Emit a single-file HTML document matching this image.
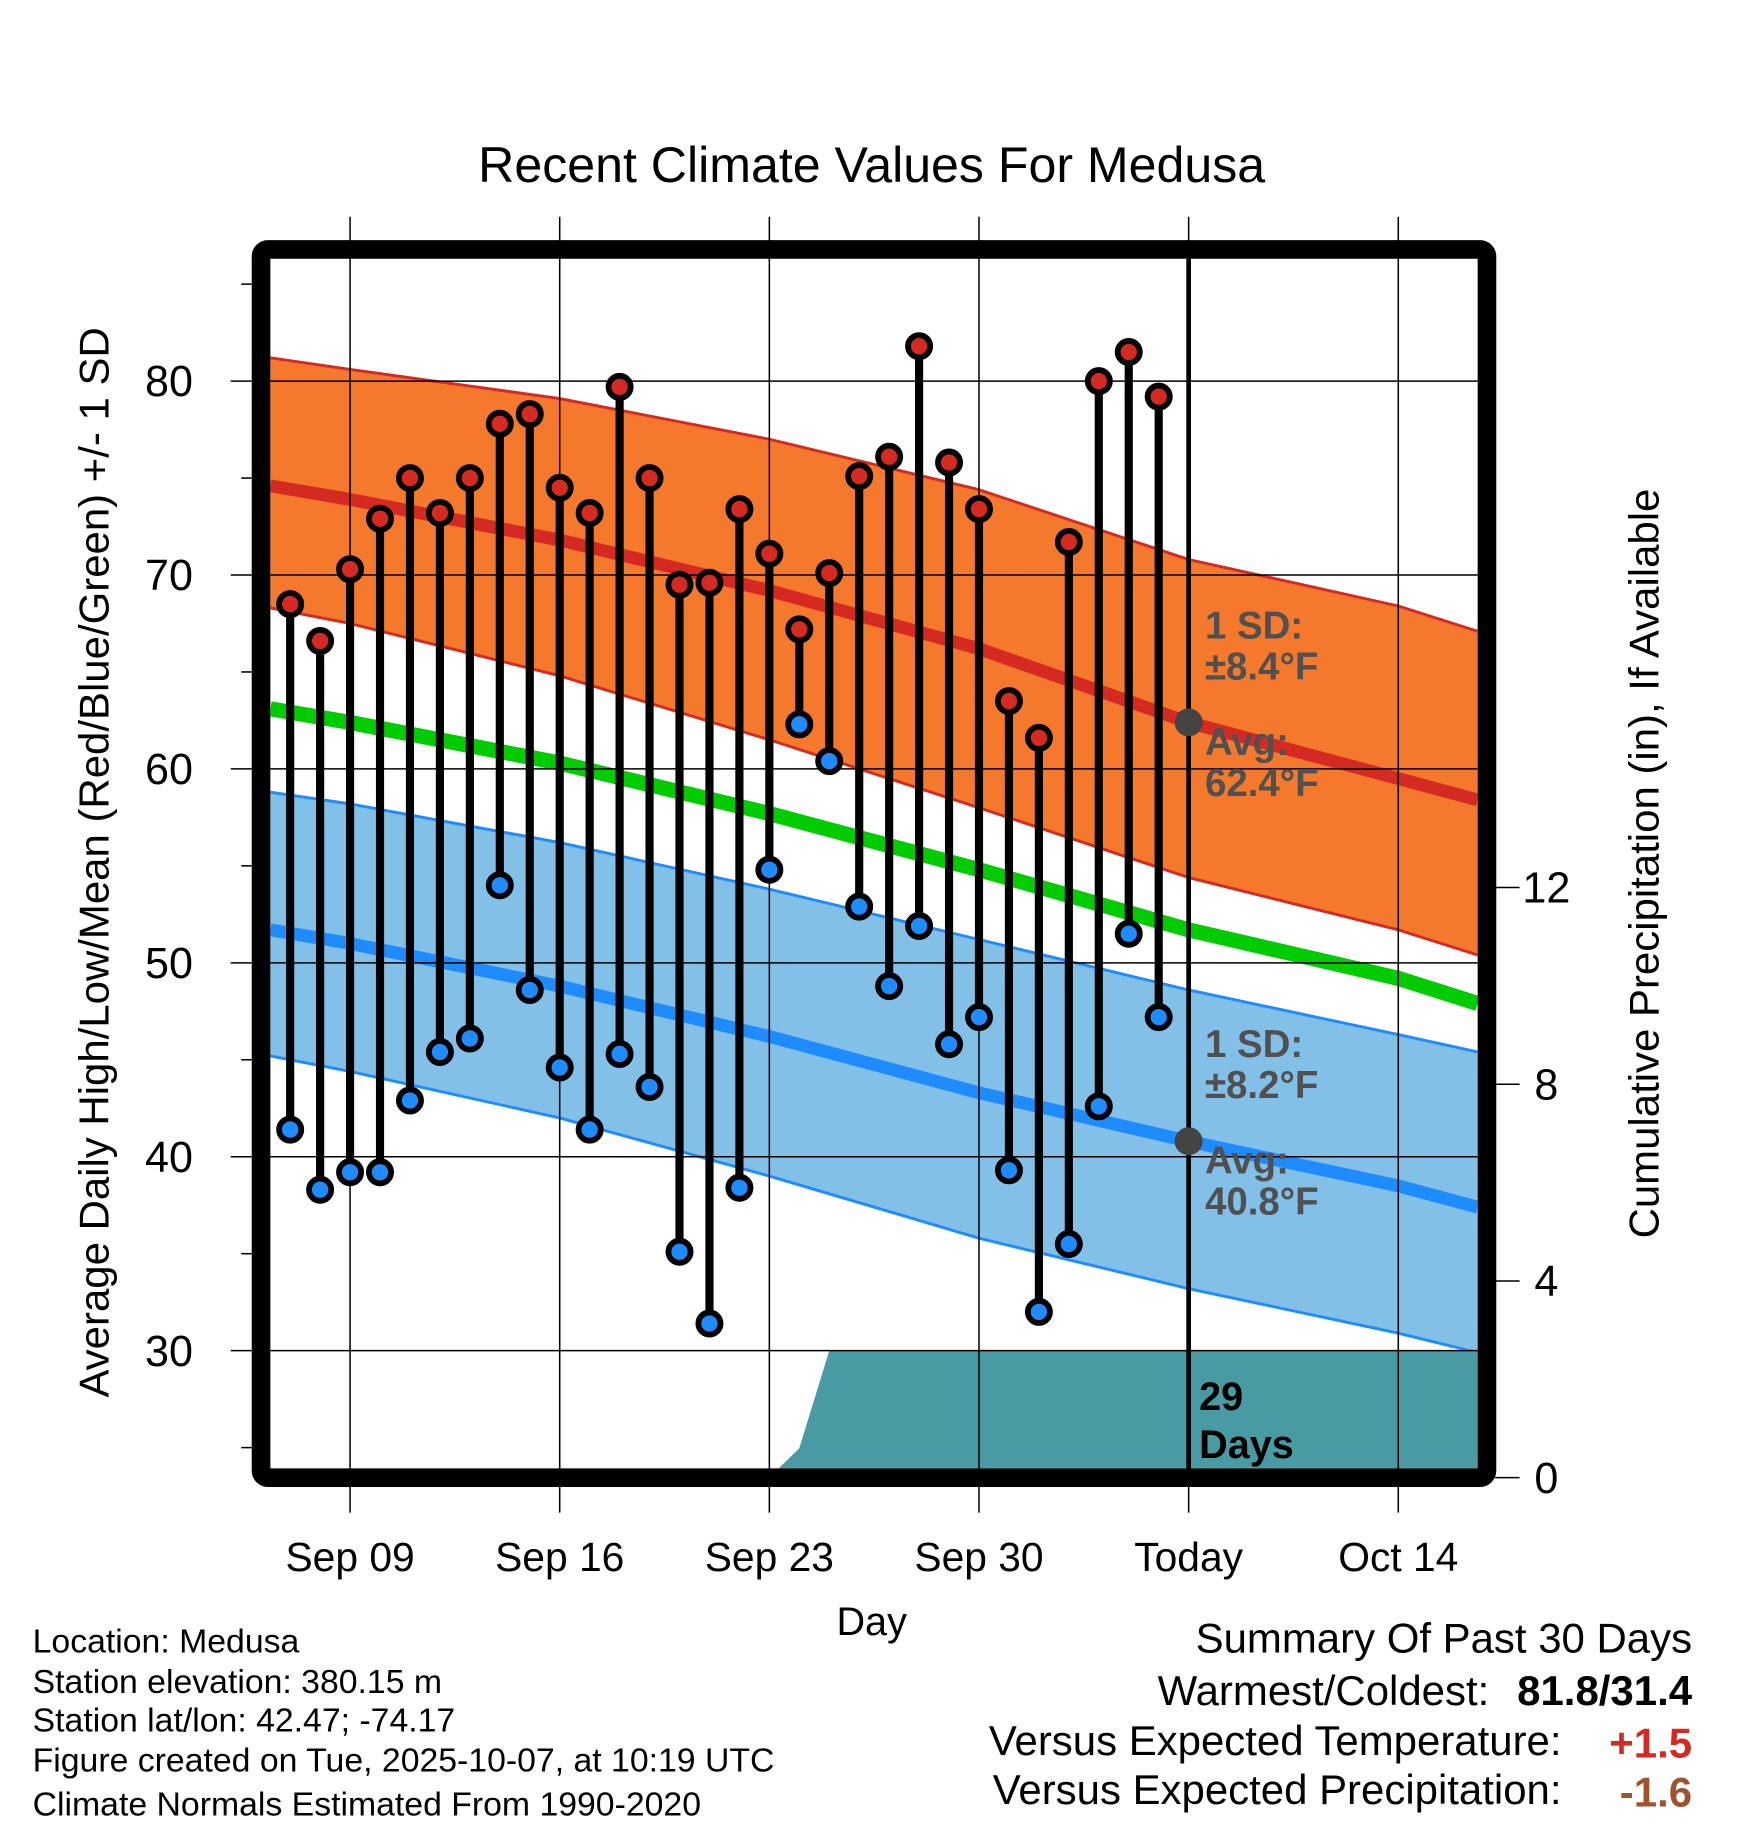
<!DOCTYPE html>
<html><head><meta charset="utf-8"><style>
html,body{margin:0;padding:0;background:#fff}
svg{display:block;font-family:"Liberation Sans",sans-serif}
</style></head><body>
<svg id="chart" width="1748" height="1828" viewBox="0 0 1500 1568.6" xmlns="http://www.w3.org/2000/svg">
<defs><clipPath id="plotclip"><rect x="232" y="222" width="1036" height="1038"/></clipPath></defs>
<g id="layers"></g>
</svg>
<script>
// ---- data ----
const normDays = [-0.66, 2, 9, 16, 23, 30, 37, 39.65]; // days since Sep 7
const normHighUpper = [81.2, 80.6, 79.1, 77.0, 74.4, 70.8, 68.4, 67.1];
const normHighMean  = [74.6, 73.9, 71.8, 69.2, 66.2, 62.4, 59.5, 58.4];
const normHighLower = [68.3, 67.5, 64.8, 61.5, 58.0, 54.4, 51.7, 50.4];
const normMean      = [63.1, 62.4, 60.3, 57.7, 54.8, 51.7, 49.2, 47.9];
const normLowUpper  = [58.8, 58.2, 56.2, 53.8, 51.2, 48.6, 46.3, 45.4];
const normLowMean   = [51.7, 51.0, 48.8, 46.2, 43.3, 40.8, 38.5, 37.4];
const normLowLower  = [45.2, 44.4, 42.0, 39.0, 35.8, 33.2, 30.9, 29.9];
const highs = [68.5,66.6,70.3,72.9,75.0,73.2,75.0,77.8,78.3,74.5,73.2,79.7,75.0,69.5,69.6,73.4,71.1,67.2,70.1,75.1,76.1,81.8,75.8,73.4,63.5,61.6,71.7,80.0,81.5,79.2];
const lows  = [41.4,38.3,39.2,39.2,42.9,45.4,46.1,54.0,48.6,44.6,41.4,45.3,43.6,35.1,31.4,38.4,54.8,62.3,60.4,52.9,48.8,51.9,45.8,47.2,39.3,32.0,35.5,42.6,51.5,47.2];
const precipDays = [-0.66, 16, 17, 18, 39.65];
const precipCum  = [0, 0, 0.6, 2.58, 2.58];
const leftTicks = [30,40,50,60,70,80];
const rightTicks = [0,4,8,12];
const xTickDays = [2,9,16,23,30,37];
const xTickLabels = ["Sep 09","Sep 16","Sep 23","Sep 30","Today","Oct 14"];

// ---- axes ----
const X0=232,X1=1268,Y0=222,Y1=1260;
const x = d => 249 + d*25.7;
const y = t => 327 + (80-t)*16.64;
const yp = p => 1268 - p*42.2;
const NS="http://www.w3.org/2000/svg";
const root=document.getElementById('layers');
function mk(tag,attrs,parent){const e=document.createElementNS(NS,tag);for(const k in attrs)e.setAttribute(k,attrs[k]);(parent||root).appendChild(e);return e;}
function txt(s,attrs,parent){const e=mk('text',attrs,parent);e.textContent=s;return e;}
function poly(days,vals,fn){return days.map((d,i)=>x(d).toFixed(1)+','+fn(vals[i]).toFixed(1));}

const plot=mk('g',{'clip-path':'url(#plotclip)'});



let e;
e=mk('polygon',{points:poly(normDays,normHighUpper,y).concat(poly(normDays,normHighLower,y).reverse()).join(' '),fill:'#f5792c'},plot);


e=mk('polygon',{points:poly(normDays,normLowUpper,y).concat(poly(normDays,normLowLower,y).reverse()).join(' '),fill:'#82c0e8'},plot);


[[normHighUpper,'#d42a22',2.5],[normHighLower,'#d42a22',2.5],[normLowUpper,'#1e8cff',2.5],[normLowLower,'#1e8cff',2.5],[normHighMean,'#d42a22',11],[normMean,'#00cc00',13],[normLowMean,'#1e8cff',11]].forEach((s,i)=>{
  const l=mk('polyline',{points:poly(normDays,s[0],y).join(' '),fill:'none',stroke:s[1],'stroke-width':s[2],'stroke-linejoin':'round'},plot);
  
  
});
const pts=poly(precipDays,precipCum,yp);
e=mk('polygon',{points:[x(precipDays[0])+','+yp(0)].concat(pts,[x(precipDays[precipDays.length-1])+','+yp(0)]).join(' '),fill:'#489ba3'},plot);



leftTicks.forEach(t=>{const g=mk('line',{x1:X0,x2:X1,y1:y(t),y2:y(t),stroke:'#000','stroke-width':1.3});

});
xTickDays.forEach(d=>{const g=mk('line',{x1:x(d),x2:x(d),y1:186,y2:1298,stroke:'#000','stroke-width':1.3});

});
e=mk('line',{x1:x(30),x2:x(30),y1:Y0,y2:Y1,stroke:'#000','stroke-width':4});



highs.forEach((h,i)=>{
  const s=mk('line',{x1:x(i),x2:x(i),y1:y(h),y2:y(lows[i]),stroke:'#000','stroke-width':7});
  
  
});
highs.forEach((h,i)=>{
  const c1=mk('circle',{cx:x(i),cy:y(h),r:9.5,fill:'#d42a22',stroke:'#000','stroke-width':5});
  
  
  const c2=mk('circle',{cx:x(i),cy:y(lows[i]),r:9.5,fill:'#1e8cff',stroke:'#000','stroke-width':5});
  
  
});
[normHighMean[5],normLowMean[5]].forEach(v=>{const c=mk('circle',{cx:x(30),cy:y(v),r:12,fill:'#444'});

});

const ann=[["1 SD:",548],["±8.4°F",583],["Avg:",648],["62.4°F",683],["1 SD:",907],["±8.2°F",942],["Avg:",1007],["40.8°F",1042]];
ann.forEach(a=>{const t=txt(a[0],{x:1034,y:a[1],'font-size':33,'font-weight':'bold',fill:'#505050'});

});
e=txt("29",{x:1029,y:1210,'font-size':34,'font-weight':'bold'});


e=txt("Days",{x:1029,y:1251,'font-size':34,'font-weight':'bold'});



e=mk('rect',{x:224,y:214,width:1052,height:1054,fill:'none',stroke:'#000','stroke-width':16,rx:6});



for(let t=25;t<=85;t+=5){const l=mk('line',{x1:leftTicks.includes(t)?198:207,x2:216,y1:y(t),y2:y(t),stroke:'#000','stroke-width':1.3});

}
leftTicks.forEach(t=>{const l=txt(String(t),{x:145,y:y(t)+13,'font-size':37,'text-anchor':'middle'});

});
rightTicks.forEach(p=>{const tk=mk('line',{x1:1283,x2:1304,y1:yp(p),y2:yp(p),stroke:'#000','stroke-width':1.3});


const l=txt(String(p),{x:1327,y:yp(p)+13,'font-size':37,'text-anchor':'middle'});

});
xTickDays.forEach((d,i)=>{const l=txt(xTickLabels[i],{x:x(d),y:1348,'font-size':35,'text-anchor':'middle'});

});
</script>
<script>
(function(){
const NS="http://www.w3.org/2000/svg";const svg=document.getElementById('chart');
function t(s,a,name){const e=document.createElementNS(NS,'text');for(const k in a)e.setAttribute(k,a[k]);e.textContent=s;


svg.appendChild(e);return e;}
t("Recent Climate Values For Medusa",{x:748,y:156,'font-size':43,'text-anchor':'middle'},'chart-title');
t("Average Daily High/Low/Mean (Red/Blue/Green) +/- 1 SD",{x:0,y:0,'font-size':36,'text-anchor':'middle',transform:'translate(93,740) rotate(-90)'},'y-axis-title');
t("Cumulative Precipitation (in), If Available",{x:0,y:0,'font-size':36,'text-anchor':'middle',transform:'translate(1423,741) rotate(-90)'},'y2-axis-title');
t("Day",{x:748,y:1403,'font-size':34,'text-anchor':'middle'},'x-axis-title');
["Location: Medusa","Station elevation: 380.15 m","Station lat/lon: 42.47; -74.17","Figure created on Tue, 2025-10-07, at 10:19 UTC","Climate Normals Estimated From 1990-2020"].forEach((s,i)=>t(s,{x:28,y:[1418,1453,1486,1520,1558][i],'font-size':29},'footer-info'));
t("Summary Of Past 30 Days",{x:1452,y:1418,'font-size':36,'text-anchor':'end'},'summary-title');
t("Warmest/Coldest:",{x:1278,y:1463,'font-size':36,'text-anchor':'end'},'summary-label');
t("81.8/31.4",{x:1452,y:1463,'font-size':36,'font-weight':'bold','text-anchor':'end'},'summary-warmest-coldest');
t("Versus Expected Temperature:",{x:1340,y:1506,'font-size':36,'text-anchor':'end'},'summary-label');
t("+1.5",{x:1452,y:1508,'font-size':36,'font-weight':'bold','text-anchor':'end',fill:'#d42a22'},'summary-temp-anomaly');
t("Versus Expected Precipitation:",{x:1340,y:1548,'font-size':36,'text-anchor':'end'},'summary-label');
t("-1.6",{x:1452,y:1550,'font-size':36,'font-weight':'bold','text-anchor':'end',fill:'#a0522d'},'summary-precip-anomaly');
})();
</script>
</body></html>
